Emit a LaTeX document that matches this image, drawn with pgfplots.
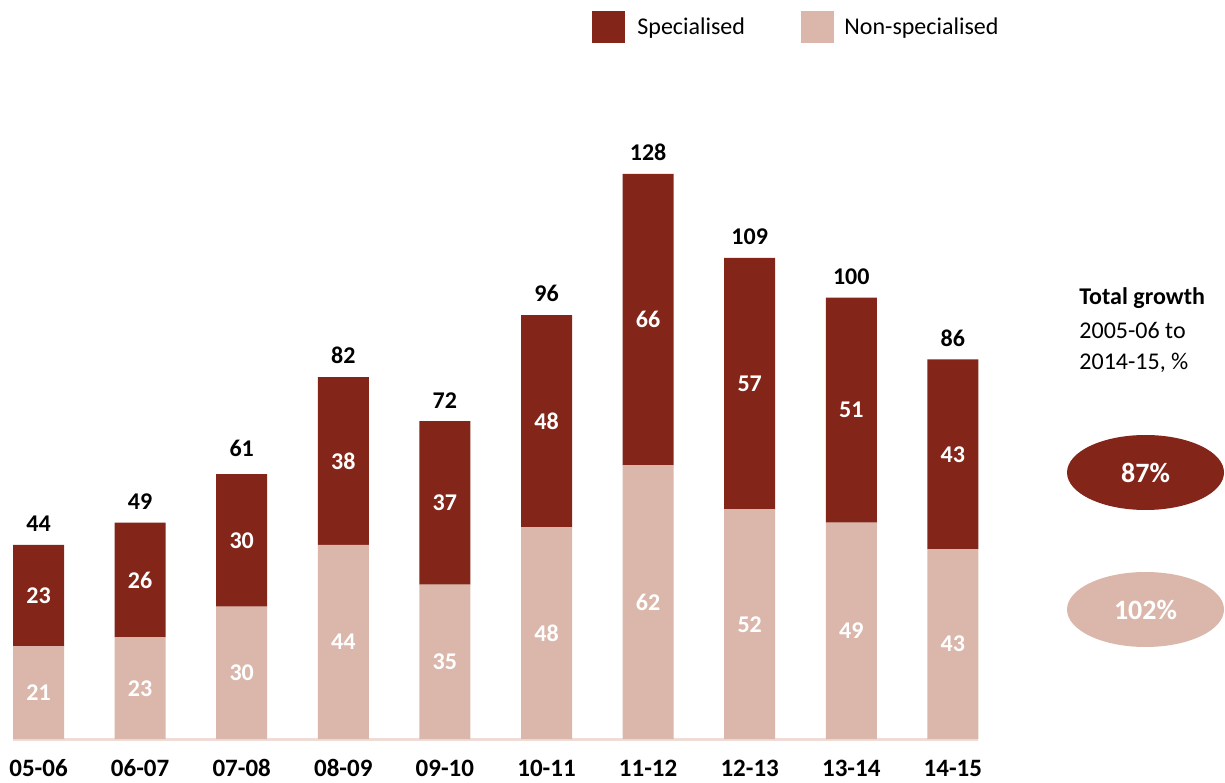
\documentclass[border=0pt]{standalone}
\usepackage{fontspec}
\setmainfont{Carlito}
\usepackage{pgfplots}
\pgfplotsset{compat=1.18}
\definecolor{spec}{HTML}{842519}
\definecolor{nonspec}{HTML}{DBB7AB}
\definecolor{baseclr}{HTML}{F0DCD6}

\pgfplotsset{
  chartframe/.style={
    at={(19.25pt,21.5pt)}, anchor=origin,
    scale only axis, width=501.85pt, height=309pt,
    xmin=-0.379, xmax=9.5, ymin=0, ymax=140,
    axis line style={draw=none},
    major tick length=0pt,
    ytick=\empty,
    clip=false,
  },
}

\begin{document}
\begin{tikzpicture}[x=0.5pt,y=0.5pt]
\useasboundingbox (0,0) rectangle (1225,782);
\begin{axis}[
  chartframe,
  ybar stacked, bar width=25.5pt,
  xtick={0,...,9},
  xticklabels={05-06,06-07,07-08,08-09,09-10,10-11,11-12,12-13,13-14,14-15},
  xticklabel style={font=\fontsize{12.5}{15}\selectfont\bfseries, anchor=base, inner sep=0pt, yshift=-18.5pt},
]
% non-specialised (bottom)
\addplot[fill=nonspec, draw=none]
  coordinates {(0,21) (1,23) (2,30) (3,44) (4,35) (5,48) (6,62) (7,52) (8,49) (9,43)};
% specialised (top)
\addplot[fill=spec, draw=none]
  coordinates {(0,23) (1,26) (2,30) (3,38) (4,37) (5,48) (6,66) (7,57) (8,51) (9,43)};
\draw[baseclr, line width=1.5pt] (axis cs:-0.251,0) -- (axis cs:9.251,0);
\end{axis}

% labels: same frame, not stacked
\begin{axis}[chartframe, xtick=\empty]
\addplot[only marks, mark=none, nodes near coords, point meta=explicit symbolic,
  nodes near coords style={anchor=center, text=white, font=\fontsize{12}{14}\selectfont\bfseries}]
  coordinates {(0,10.5)[21] (1,11.5)[23] (2,15)[30] (3,22)[44] (4,17.5)[35]
               (5,24)[48] (6,31)[62] (7,26)[52] (8,24.5)[49] (9,21.5)[43]};
\addplot[only marks, mark=none, nodes near coords, point meta=explicit symbolic,
  nodes near coords style={anchor=center, text=white, font=\fontsize{12}{14}\selectfont\bfseries}]
  coordinates {(0,32.5)[23] (1,36)[26] (2,45)[30] (3,63)[38] (4,53.5)[37]
               (5,72)[48] (6,95)[66] (7,80.5)[57] (8,74.5)[51] (9,64.5)[43]};
\addplot[only marks, mark=none, nodes near coords, point meta=explicit symbolic,
  nodes near coords style={anchor=south, text=black, font=\fontsize{12}{14}\selectfont\bfseries, yshift=3pt}]
  coordinates {(0,44)[44] (1,49)[49] (2,61)[61] (3,82)[82] (4,72)[72]
               (5,96)[96] (6,128)[128] (7,109)[109] (8,100)[100] (9,86)[86]};
\end{axis}

% legend
\fill[spec] (592,739) rectangle (625,771);
\node[anchor=west, inner sep=0, font=\fontsize{12}{14}\selectfont] at (637,754) {Specialised};
\fill[nonspec] (801,739) rectangle (834,771);
\node[anchor=west, inner sep=0, font=\fontsize{12}{14}\selectfont] at (844,754) {Non-specialised};

% growth annotation
\node[anchor=west, inner sep=0, font=\fontsize{12}{14}\selectfont\bfseries] at (1079,484) {Total growth};
\node[anchor=west, inner sep=0, font=\fontsize{12}{14}\selectfont] at (1079,452) {2005-06 to};
\node[anchor=west, inner sep=0, font=\fontsize{12}{14}\selectfont] at (1079,419) {2014-15, \%};
\fill[spec] (1145.5,309.5) ellipse [x radius=78.5, y radius=37.5];
\node[text=white, font=\fontsize{14}{16}\selectfont\bfseries] at (1145.5,309.5) {87\%};
\fill[nonspec] (1145.5,172.5) ellipse [x radius=78.5, y radius=37.5];
\node[text=white, font=\fontsize{14}{16}\selectfont\bfseries] at (1145.5,172.5) {102\%};
\end{tikzpicture}
\end{document}
